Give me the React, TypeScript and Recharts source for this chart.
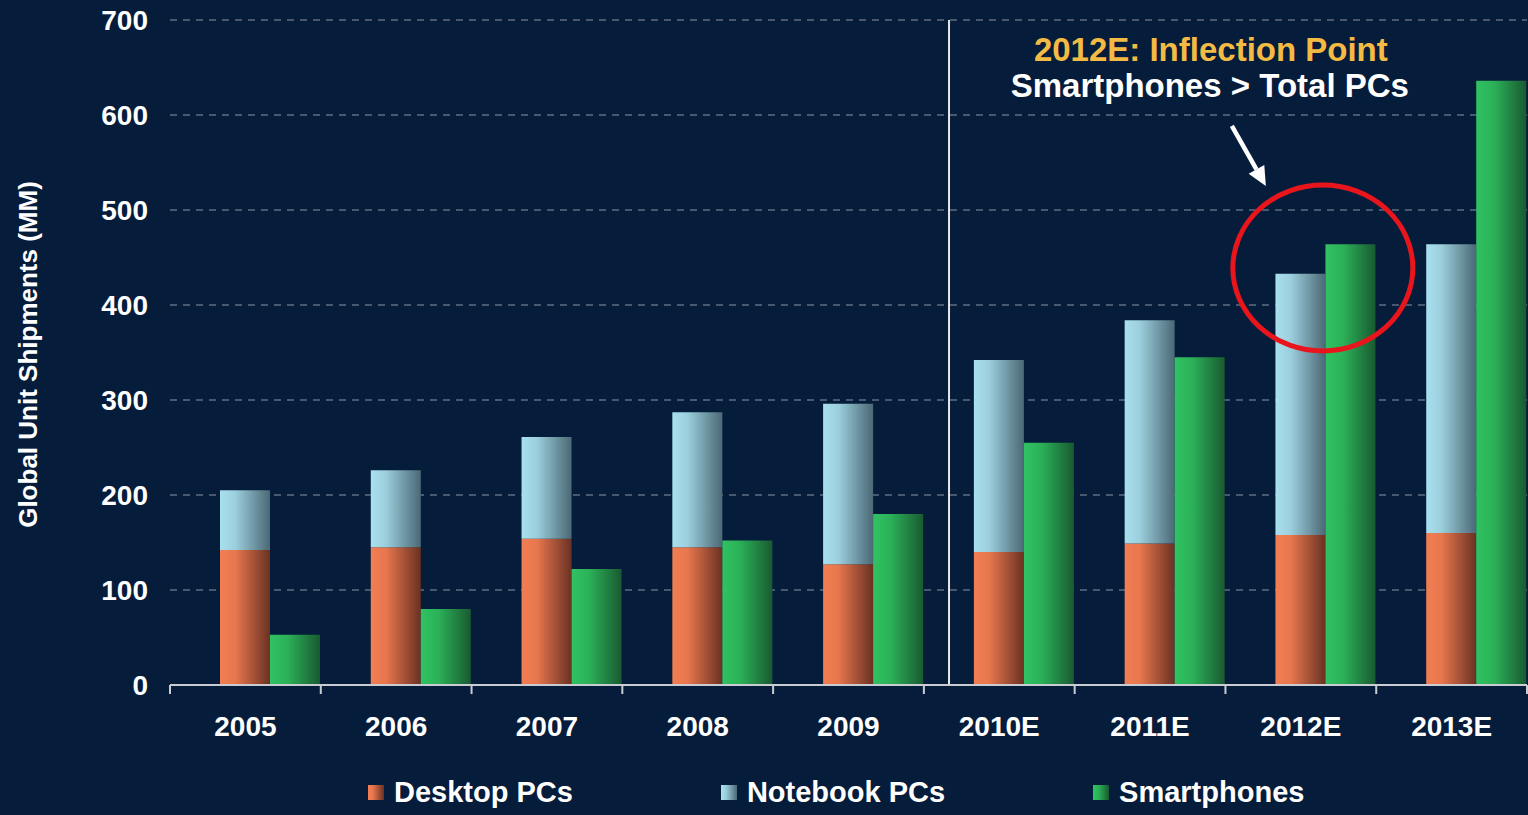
import React from 'react';
import {
  BarChart,
  Bar,
  XAxis,
  YAxis,
  CartesianGrid,
  Legend,
  ReferenceLine,
  ReferenceDot,
  Label,
} from 'recharts';

// ---------- data ----------
const categories = ['2005', '2006', '2007', '2008', '2009', '2010E', '2011E', '2012E', '2013E'];
const desktopPCs = [142, 145, 154, 145, 127, 140, 149, 158, 160];
const notebookPCs = [63, 81, 107, 142, 169, 202, 235, 275, 304];
const smartphones = [53, 80, 122, 152, 180, 255, 345, 464, 636];
const yTicks = [0, 100, 200, 300, 400, 500, 600, 700];
const seriesNames = ['Desktop PCs', 'Notebook PCs', 'Smartphones'];
const forecastStart = '2010E';
const inflectionCategory = '2012E';
const inflectionValue = 439;
const annotationTitle = '2012E: Inflection Point';
const annotationSubtitle = 'Smartphones > Total PCs';
const yAxisTitle = 'Global Unit Shipments (MM)';

const data = categories.map((c, i) => ({
  year: c,
  desktop: desktopPCs[i],
  notebook: notebookPCs[i],
  smartphone: smartphones[i],
}));

// ---------- layout / style ----------
const W = 1528;
const H = 815;
const Y_AXIS_W = 170;
const M_RIGHT = 1;
const BAND = (W - Y_AXIS_W - M_RIGHT) / categories.length;
const BG = '#061c3b';
const AXIS = '#c9cdd2';
const FONT = '"Liberation Sans", Arial, Helvetica, sans-serif';

const gradients = [
  { id: 'gDesk', stops: [['0%', '#f27e53'], ['30%', '#e8774e'], ['100%', '#6a3123']] },
  { id: 'gNote', stops: [['0%', '#a9e0ee'], ['30%', '#9ccfdd'], ['100%', '#4b6875']] },
  { id: 'gPhone', stops: [['0%', '#30c262'], ['35%', '#2bb158'], ['100%', '#195a31']] },
];
const cssGrad = (id: string) => {
  const g = gradients.find((x) => x.id === id)!;
  return `linear-gradient(to right, ${g.stops.map((s) => `${s[1]} ${s[0]}`).join(', ')})`;
};
const legendGrads = ['gDesk', 'gNote', 'gPhone'];

const XTick = (props: any) => {
  const { x, y, payload } = props;
  const half = BAND / 2;
  const isLast = payload.value === categories[categories.length - 1];
  return (
    <g>
      <line x1={x - half} y1={y} x2={x - half} y2={y + 9} stroke={AXIS} strokeWidth={2} />
      {isLast && <line x1={x + half} y1={y} x2={x + half} y2={y + 9} stroke={AXIS} strokeWidth={2} />}
      <text
        x={x}
        y={y + 51}
        textAnchor="middle"
        fill="#ffffff"
        fontSize={28}
        fontWeight="bold"
        fontFamily={FONT}
      >
        {payload.value}
      </text>
    </g>
  );
};

const YTitle = (props: any) => {
  const vb = props.viewBox || { x: 0, y: 20, width: 170, height: 665 };
  const cx = 28;
  const cy = vb.y + vb.height / 2 + 2;
  return (
    <text
      x={cx}
      y={cy}
      transform={`rotate(-90 ${cx} ${cy})`}
      textAnchor="middle"
      dominantBaseline="central"
      fill="#ffffff"
      fontSize={26}
      fontWeight="bold"
      fontFamily={FONT}
    >
      {yAxisTitle}
    </text>
  );
};

const Annotation = (props: any) => {
  const { cx, cy } = props;
  if (cx == null || cy == null) return null;
  const ex = cx + 22;
  const ey = cy;
  const sx = ex - 91;
  const sy = ey - 142;
  const tx = ex - 57;
  const ty = ey - 82;
  const dx = tx - sx;
  const dy = ty - sy;
  const len = Math.sqrt(dx * dx + dy * dy);
  const ux = dx / len;
  const uy = dy / len;
  const hl = 19;
  const hw = 9;
  const bx = tx - ux * hl;
  const by = ty - uy * hl;
  const nx = -uy;
  const ny = ux;
  return (
    <g>
      <ellipse cx={ex} cy={ey} rx={90} ry={83} fill="none" stroke="#e8161c" strokeWidth={5} />
      <line x1={sx} y1={sy} x2={bx} y2={by} stroke="#ffffff" strokeWidth={4.5} />
      <polygon
        points={`${tx},${ty} ${bx + nx * hw},${by + ny * hw} ${bx - nx * hw},${by - ny * hw}`}
        fill="#ffffff"
      />
      <text
        x={cx - 90}
        y={cy - 207}
        textAnchor="middle"
        fill="#f4bb44"
        fontSize={33}
        fontWeight="bold"
        fontFamily={FONT}
      >
        {annotationTitle}
      </text>
      <text
        x={cx - 91}
        y={cy - 171}
        textAnchor="middle"
        fill="#ffffff"
        fontSize={33}
        fontWeight="bold"
        fontFamily={FONT}
      >
        {annotationSubtitle}
      </text>
    </g>
  );
};

const LegendContent = () => (
  <div
    style={{
      display: 'flex',
      alignItems: 'center',
      height: 40,
      paddingLeft: 368,
      gap: 148,
      boxSizing: 'border-box',
      fontFamily: FONT,
      fontWeight: 'bold',
      fontSize: 29,
      color: '#ffffff',
      transform: 'translateY(-3px)',
    }}
  >
    {seriesNames.map((n, i) => (
      <div key={n} style={{ display: 'flex', alignItems: 'center', whiteSpace: 'nowrap' }}>
        <span
          style={{
            display: 'inline-block',
            width: 16,
            height: 15,
            background: cssGrad(legendGrads[i]),
            marginRight: 10,
          }}
        />
        <span>{n}</span>
      </div>
    ))}
  </div>
);

export default function App() {
  return (
    <div
      style={{
        position: 'absolute',
        left: 0,
        top: 0,
        width: W,
        height: H,
        background: BG,
        fontFamily: FONT,
        overflow: 'hidden',
      }}
    >
      <BarChart
        width={W}
        height={H}
        data={data}
        margin={{ top: 20, right: M_RIGHT, left: 0, bottom: 0 }}
        barCategoryGap={0}
        barGap={0}
      >
        <defs>
          {gradients.map((g) => (
            <linearGradient key={g.id} id={g.id} x1="0" y1="0" x2="1" y2="0">
              {g.stops.map((s) => (
                <stop key={s[0]} offset={s[0]} stopColor={s[1]} />
              ))}
            </linearGradient>
          ))}
        </defs>
        <CartesianGrid vertical={false} stroke="#5f6c80" strokeDasharray="7 6" strokeWidth={1.5} />
        <XAxis
          dataKey="year"
          height={90}
          interval={0}
          tickSize={0}
          tickMargin={0}
          tickLine={false}
          axisLine={{ stroke: AXIS, strokeWidth: 2 }}
          tick={<XTick />}
        />
        <YAxis
          width={Y_AXIS_W}
          domain={[0, 700]}
          ticks={yTicks}
          interval={0}
          axisLine={false}
          tickLine={false}
          tickSize={6}
          tickMargin={16}
          tick={{ fill: '#ffffff', fontSize: 28, fontWeight: 'bold', fontFamily: FONT }}
        >
          <Label content={<YTitle />} />
        </YAxis>
        <Legend verticalAlign="bottom" content={<LegendContent />} wrapperStyle={{ left: 0, width: W, bottom: 0 }} />
        <Bar dataKey={() => 0} stackId="a_spacer" fill="transparent" legendType="none" isAnimationActive={false} />
        <Bar dataKey="desktop" name={seriesNames[0]} stackId="b_pc" fill="url(#gDesk)" isAnimationActive={false} />
        <Bar dataKey="notebook" name={seriesNames[1]} stackId="b_pc" fill="url(#gNote)" isAnimationActive={false} />
        <Bar dataKey="smartphone" name={seriesNames[2]} stackId="c_phone" fill="url(#gPhone)" isAnimationActive={false} />
        <ReferenceLine
          x={forecastStart}
          position="start"
          stroke="#e8e8e8"
          strokeWidth={2}
          shape={(p: any) => (
            <line x1={p.x1 + BAND / 6} y1={p.y1} x2={p.x2 + BAND / 6} y2={p.y2} stroke="#e8e8e8" strokeWidth={2} />
          )}
        />
        <ReferenceDot x={inflectionCategory} y={inflectionValue} shape={<Annotation />} />
      </BarChart>
    </div>
  );
}
